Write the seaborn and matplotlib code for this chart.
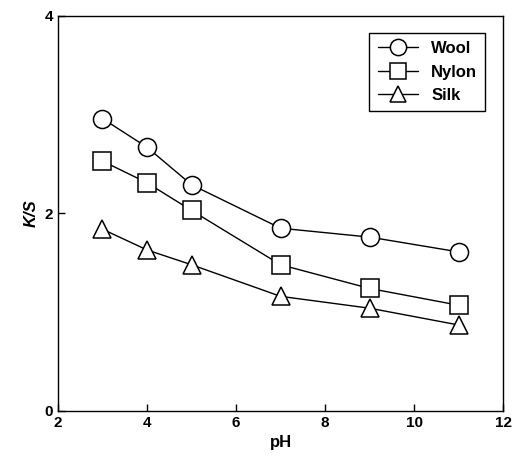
import pandas as pd
import matplotlib
matplotlib.use("Agg")
import matplotlib.pyplot as plt
import seaborn as sns

# Datos
ph = [3, 4, 5, 7, 9, 11]
wool = [2.96, 2.67, 2.29, 1.85, 1.76, 1.61]
nylon = [2.53, 2.31, 2.03, 1.48, 1.24, 1.07]
silk = [1.84, 1.63, 1.48, 1.16, 1.04, 0.87]
fibras = ["Wool", "Nylon", "Silk"]

df = pd.DataFrame({
    "pH": ph * 3,
    "KS": wool + nylon + silk,
    "fibra": [f for f in fibras for _ in ph],
})

sns.set_style("ticks", {"text.color": "black", "axes.labelcolor": "black",
                        "xtick.color": "black", "ytick.color": "black",
                        "axes.edgecolor": "black"})
plt.rcParams["font.family"] = ["Liberation Sans", "DejaVu Sans"]

fig = plt.figure(figsize=(5.13, 4.68), dpi=100)
ax = fig.add_axes([0.113, 0.122, 0.868, 0.844])

sns.lineplot(data=df, x="pH", y="KS", style="fibra", markers=["o", "s", "^"],
             dashes=False, color="black", linewidth=1, markersize=13,
             markerfacecolor="white", markeredgecolor="black", markeredgewidth=1.1,
             ax=ax)

ax.set_xlim(2, 12)
ax.set_ylim(0, 4)
ax.set_xticks([2, 4, 6, 8, 10, 12])
ax.set_yticks([0, 2, 4])
ax.tick_params(direction="in", length=5, width=1, labelsize=11)
for lab in ax.get_xticklabels() + ax.get_yticklabels():
    lab.set_fontweight("bold")
for s in ax.spines.values():
    s.set_linewidth(1)

ax.set_xlabel("pH", fontsize=12, fontweight="bold")
ax.set_ylabel("K/S", fontsize=12, fontweight="bold", style="italic")

handles, labels = ax.get_legend_handles_labels()
leg = ax.legend(handles, labels, loc="upper right", bbox_to_anchor=(0.96, 0.957),
                borderaxespad=0, fancybox=False, edgecolor="black", framealpha=1,
                prop={"weight": "bold", "size": 12}, handlelength=2.4,
                labelspacing=0.5, borderpad=0.5, markerscale=0.9)
leg.get_frame().set_linewidth(1)

plt.savefig("out.png", dpi=100)
